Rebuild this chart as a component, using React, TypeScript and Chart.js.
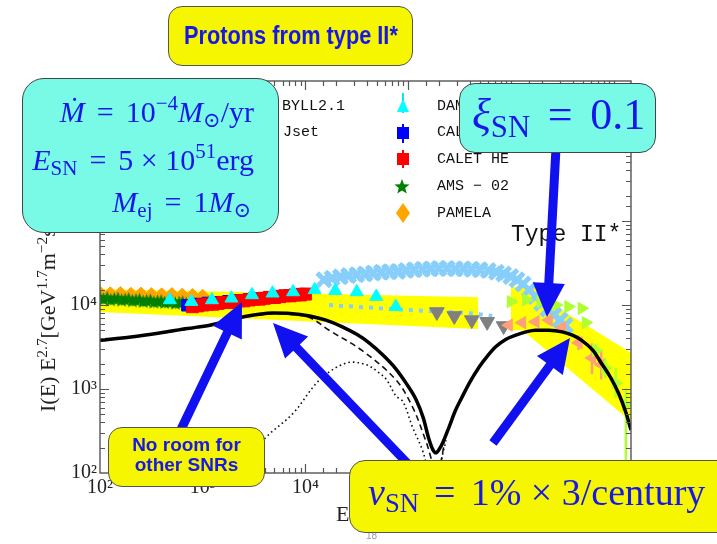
import React, { useEffect, useRef } from 'react';
import { Chart, registerables } from 'chart.js';

Chart.register(...registerables);

// ---------------- data: E [GeV], flux = I(E)·E^2.7 ----------------
const totalE = [100, 200, 380, 710, 1175, 2450, 4790, 7080, 11000, 15850, 22900, 31600, 41700, 56200, 75900, 95500, 120000, 141000, 158000, 174000, 186000, 200000, 219000, 251000, 288000, 331000, 398000, 490000, 589000, 708000, 891000, 1.12e6, 1.41e6, 1.74e6, 2.34e6, 3.16e6, 3.98e6, 4.9e6, 6.31e6, 7.59e6, 9.33e6, 1.12e7, 1.32e7, 1.48e7];
const totalF = [3800, 4170, 4650, 5250, 5750, 7200, 8040, 7940, 7400, 6600, 5500, 4470, 3550, 2570, 1740, 1175, 741, 447, 263, 190, 174, 190, 234, 355, 550, 776, 1200, 1820, 2450, 3160, 3890, 4370, 4790, 5010, 5010, 4790, 4370, 3800, 2880, 2040, 1380, 891, 525, 324];

const comp1E = [100, 380, 1175, 2450, 4790, 7080, 11000, 17000, 35500, 75900, 110000, 148000, 166000, 182000];
const comp1F = [3780, 4620, 5700, 7100, 7900, 7760, 7080, 5010, 2880, 1290, 617, 245, 155, 100];
const comp1bE = [200000, 212000, 226000];
const comp1bF = [100, 150, 230];

const comp2E = [2000, 4170, 7590, 13800, 25100, 38900, 52500, 61700, 75900, 89100, 110000, 138000, 158000];
const comp2F = [100, 269, 513, 1290, 2040, 1950, 1550, 1290, 832, 708, 355, 186, 100];
const comp2bE = [204000, 214000, 234000];
const comp2bF = [100, 155, 245];

const band1UpperE = [100, 480000];
const band1UpperF = [15500, 12400];
const band1LowerE = [100, 480000];
const band1LowerF = [8260, 5180];
const band2UpperE = [1.0e6, 2.0e6, 2.6e6, 1.48e7];
const band2UpperF = [16400, 16400, 10000, 2700];
const band2LowerE = [1.0e6, 1.3e6, 1.48e7];
const band2LowerF = [5000, 5000, 410];

const amsE = [100, 108.4, 117.5, 127.4, 138.0, 149.6, 162.2, 175.8, 190.5, 206.5, 223.9, 242.7, 263.0, 285.1, 309.0, 335.0, 363.1, 393.6, 426.6, 462.4, 501.2, 543.3, 588.8, 638.3, 691.8];
const amsF = [12300, 11700, 12150, 11500, 11800, 11950, 11400, 11600, 11750, 11200, 11400, 11550, 11000, 11200, 11350, 10800, 11000, 11150, 10700, 10850, 10950, 10500, 10650, 10800, 10400];

const pamelaE = [100, 126, 158, 200, 251, 316, 398, 501, 631, 794, 1000];
const pamelaF = [13800, 13600, 13700, 13400, 13500, 13300, 13200, 13300, 13100, 13000, 12700];

const caletE = [708, 891, 1122, 1413, 1778, 2239, 2818, 3548, 4467, 5623, 7079, 8913];
const caletF = [9900, 10300, 10600, 10800, 11100, 11400, 11700, 12000, 12400, 12800, 13100, 13500];

const caletHeE = [794, 891, 1000, 1122, 1259, 1413, 1585, 1778, 1995, 2239, 2512, 2818, 3162, 3548, 3981, 4467, 5012, 5623, 6310, 7079, 7943, 8913, 10000];
const caletHeF = [9550, 9770, 10000, 10230, 10230, 10470, 10720, 10720, 10960, 11220, 11220, 11480, 11750, 11750, 12020, 12300, 12300, 12590, 12880, 12880, 13180, 13180, 13490];

const dampeE = [479, 776, 1230, 1905, 3020, 4786, 7586, 12300, 19500, 31620, 48980, 75860];
const dampeF = [11480, 10960, 11480, 12020, 13180, 13800, 14290, 15140, 14790, 14290, 12590, 9550];

const grayE = [190500, 281800, 416900, 588800, 851100];
const grayF = [8260, 7410, 6610, 6310, 5620];

const skyLineE = [17000, 100000, 400000, 660000];
const skyLineF = [10000, 8700, 8000, 7400];

const skyE = [15140, 18200, 21880, 26300, 31620, 38020, 45710, 54950, 66070, 79430, 95500, 114800, 138000, 166000, 199500, 239900, 288400, 346700, 416900, 501200, 602600, 724400, 851100, 1000000, 1148000, 1318000, 1514000, 1738000, 1995000, 2291000, 2630000, 3020000, 3388000];
const skyF = [19950, 20890, 21630, 22390, 22910, 23440, 23990, 24550, 24830, 25120, 25700, 26300, 26610, 26920, 27230, 27230, 26920, 26920, 26610, 26300, 25700, 24550, 23440, 21880, 19950, 17780, 15140, 12590, 10470, 8910, 7590, 6610, 5750];

const limeE = [1.0e6, 1.41e6, 1.95e6, 2.75e6, 3.63e6, 4.9e6, 5.37e6, 6.76e6, 8.32e6, 1.05e7, 1.32e7];
const limeF = [10960, 11500, 10960, 10000, 9550, 9120, 6170, 2880, 1780, 1175, 646];
const limeLo = [10200, 10700, 10200, 9300, 8900, 8500, 5500, 2400, 1350, 780, 60];
const limeHi = [11800, 12300, 11800, 10700, 10250, 9800, 6900, 3450, 2350, 1780, 1020];

const salmonE = [9.55e5, 1.29e6, 1.74e6, 2.34e6, 3.16e6, 4.57e6, 6.17e6, 7.59e6];
const salmonF = [5750, 6170, 6310, 6610, 5370, 3550, 2340, 1950];
const salmonLo = [5200, 5600, 5700, 5900, 4700, 2900, 1500, 1300];
const salmonHi = [6350, 6800, 7000, 7400, 6150, 4350, 3500, 2900];

const xDecades = [2, 3, 4, 5, 6, 7];
const yDecades = [2, 3, 4, 5, 6];
const xMin = 100, xMax = 1.48e7, yMin = 100, yMax = 4.64e6;

// ---------------- styling ----------------
const SERIF = '"Liberation Serif", "DejaVu Serif", serif';
const MONO = '"Liberation Mono", "DejaVu Sans Mono", monospace';
const SANS = '"Liberation Sans", Arial, sans-serif';
const BLUE = '#1717e8';
const ARROW = '#1010f0';
const CYANBOX = '#78fae6';
const YELLOWBOX = '#f6f600';

const SUPS: Record<string, string> = { '0': '⁰', '1': '¹', '2': '²', '3': '³', '4': '⁴', '5': '⁵', '6': '⁶', '7': '⁷', '8': '⁸', '9': '⁹' };

const pts = (xs: number[], ys: number[]) => xs.map((x, i) => ({ x, y: ys[i] }));

function decadeLabel(v: number, decades: number[]) {
  const l = Math.log10(v);
  const r = Math.round(l);
  if (Math.abs(l - r) > 1e-6 || !decades.includes(r)) return '';
  return '10' + String(r).split('').map((c) => SUPS[c]).join('');
}

function arrowPoly(x1: number, y1: number, x2: number, y2: number, w = 9, hl = 34, hw = 16) {
  const dx = x2 - x1, dy = y2 - y1, L = Math.hypot(dx, dy);
  const ux = dx / L, uy = dy / L, nx = -uy, ny = ux;
  const bx = x2 - ux * hl, by = y2 - uy * hl;
  const p = [
    [x1 + nx * w / 2, y1 + ny * w / 2],
    [bx + nx * w / 2, by + ny * w / 2],
    [bx + nx * hw, by + ny * hw],
    [x2, y2],
    [bx - nx * hw, by - ny * hw],
    [bx - nx * w / 2, by - ny * w / 2],
    [x1 - nx * w / 2, y1 - ny * w / 2],
  ];
  return p.map((q) => q[0].toFixed(1) + ',' + q[1].toFixed(1)).join(' ');
}

function starPoly(cx: number, cy: number, R: number, r: number) {
  const out: string[] = [];
  for (let i = 0; i < 10; i++) {
    const a = -Math.PI / 2 + (i * Math.PI) / 5;
    const rr = i % 2 === 0 ? R : r;
    out.push((cx + rr * Math.cos(a)).toFixed(1) + ',' + (cy + rr * Math.sin(a)).toFixed(1));
  }
  return out.join(' ');
}

const Sup = ({ children }: { children: React.ReactNode }) => (
  <span style={{ fontSize: '0.7em', position: 'relative', top: '-0.55em', lineHeight: 0 }}>{children}</span>
);
const Sub = ({ children }: { children: React.ReactNode }) => (
  <span style={{ fontSize: '0.7em', position: 'relative', top: '0.25em', lineHeight: 0 }}>{children}</span>
);
const Eq = () => <span style={{ margin: '0 0.4em' }}>=</span>;

const errorBarPlugin = {
  id: 'errbars',
  beforeDatasetDraw(chart: any, args: any) {
    const ds = chart.data.datasets[args.index];
    if (!ds.errLo) return;
    const { ctx, chartArea: a, scales } = chart;
    ctx.save();
    ctx.beginPath();
    ctx.rect(a.left, a.top, a.right - a.left, a.bottom - a.top);
    ctx.clip();
    ctx.strokeStyle = ds.errColor;
    ctx.lineWidth = 2.5;
    ds.data.forEach((p: any, i: number) => {
      const px = scales.x.getPixelForValue(p.x);
      ctx.beginPath();
      ctx.moveTo(px, scales.y.getPixelForValue(ds.errLo[i]));
      ctx.lineTo(px, scales.y.getPixelForValue(ds.errHi[i]));
      ctx.stroke();
    });
    ctx.restore();
  },
};

const framePlugin = {
  id: 'frame',
  afterDraw(chart: any) {
    const { ctx, chartArea: a, scales } = chart;
    ctx.save();
    ctx.strokeStyle = '#555';
    ctx.lineWidth = 1.4;
    ctx.strokeRect(a.left, a.top, a.right - a.left, a.bottom - a.top);
    ctx.lineWidth = 1.2;
    const isMajor = (v: number) => Math.abs(Math.log10(v) - Math.round(Math.log10(v))) < 1e-6;
    scales.x.ticks.forEach((t: any) => {
      if (t.value <= scales.x.min || t.value >= scales.x.max) return;
      const px = Math.round(scales.x.getPixelForValue(t.value)) + 0.5;
      const len = isMajor(t.value) ? 9 : 5;
      ctx.beginPath();
      ctx.moveTo(px, a.bottom); ctx.lineTo(px, a.bottom - len);
      ctx.moveTo(px, a.top); ctx.lineTo(px, a.top + len);
      ctx.stroke();
    });
    scales.y.ticks.forEach((t: any) => {
      if (t.value <= scales.y.min || t.value >= scales.y.max) return;
      const py = Math.round(scales.y.getPixelForValue(t.value)) + 0.5;
      const len = isMajor(t.value) ? 9 : 5;
      ctx.beginPath();
      ctx.moveTo(a.left, py); ctx.lineTo(a.left + len, py);
      ctx.moveTo(a.right, py); ctx.lineTo(a.right - len, py);
      ctx.stroke();
    });
    ctx.restore();
  },
};

export default function App() {
  const ref = useRef<HTMLCanvasElement>(null);

  useEffect(() => {
    const star = document.createElement('canvas');
    star.width = 15; star.height = 15;
    const sc = star.getContext('2d')!;
    sc.fillStyle = '#008000';
    sc.beginPath();
    for (let i = 0; i < 10; i++) {
      const ang = -Math.PI / 2 + (i * Math.PI) / 5;
      const rr = i % 2 === 0 ? 7.5 : 3.2;
      const px = 7.5 + rr * Math.cos(ang), py = 7.9 + rr * Math.sin(ang);
      if (i === 0) sc.moveTo(px, py); else sc.lineTo(px, py);
    }
    sc.closePath();
    sc.fill();

    const hidden = 'rgba(0,0,0,0)';
    const chart = new Chart(ref.current!, {
      type: 'scatter',
      data: {
        datasets: [
          { data: pts(band1UpperE, band1UpperF), showLine: true, borderColor: hidden, borderWidth: 0, pointRadius: 0, backgroundColor: '#ffff00', fill: '+1', order: 100 } as any,
          { data: pts(band1LowerE, band1LowerF), showLine: true, borderColor: hidden, borderWidth: 0, pointRadius: 0, fill: false, order: 101 },
          { data: pts(band2UpperE, band2UpperF), showLine: true, borderColor: hidden, borderWidth: 0, pointRadius: 0, backgroundColor: '#ffff00', fill: '+1', order: 102 },
          { data: pts(band2LowerE, band2LowerF), showLine: true, borderColor: hidden, borderWidth: 0, pointRadius: 0, fill: false, order: 103 },
          { data: pts(skyLineE, skyLineF), showLine: true, borderColor: '#87cefa', borderWidth: 4, borderDash: [4, 6], pointRadius: 0, order: 60 },
          { data: pts(skyE, skyF), pointStyle: 'crossRot', pointRadius: 9.5, pointBorderWidth: 5, borderColor: '#87cefa', backgroundColor: '#87cefa', order: 50 },
          { data: pts(pamelaE, pamelaF), pointStyle: 'rectRot', pointRadius: 7, borderColor: '#ffa500', backgroundColor: '#ffa500', order: 31 },
          { data: pts(amsE, amsF), pointStyle: star, order: 30 } as any,
          { data: pts(caletE, caletF), pointStyle: 'rect', pointRadius: 8, borderColor: '#0000ff', backgroundColor: '#0000ff', order: 29 },
          { data: pts(caletHeE, caletHeF), pointStyle: 'rect', pointRadius: 8.5, borderColor: '#ff0000', backgroundColor: '#ff0000', order: 28 },
          { data: pts(dampeE, dampeF), pointStyle: 'triangle', pointRadius: 7.5, borderColor: '#00ffff', backgroundColor: '#00ffff', order: 27 },
          { data: pts(grayE, grayF), pointStyle: 'triangle', pointRotation: 180, pointRadius: 8.5, borderColor: '#808080', backgroundColor: '#808080', order: 26 },
          { data: pts(salmonE, salmonF), pointStyle: 'triangle', pointRotation: -90, pointRadius: 7, borderColor: '#ffa07a', backgroundColor: '#ffa07a', order: 25, errLo: salmonLo, errHi: salmonHi, errColor: '#ffa07a' } as any,
          { data: pts(limeE, limeF), pointStyle: 'triangle', pointRotation: 90, pointRadius: 7, borderColor: '#adff2f', backgroundColor: '#adff2f', order: 24, errLo: limeLo, errHi: limeHi, errColor: '#adff2f' } as any,
          { data: pts(comp2E, comp2F), showLine: true, borderColor: '#111', borderWidth: 1.6, borderDash: [1.6, 3], pointRadius: 0, tension: 0.35, order: 4 },
          { data: pts(comp2bE, comp2bF), showLine: true, borderColor: '#111', borderWidth: 1.6, borderDash: [1.6, 3], pointRadius: 0, tension: 0.35, order: 4 },
          { data: pts(comp1E, comp1F), showLine: true, borderColor: '#111', borderWidth: 1.6, borderDash: [6, 4], pointRadius: 0, tension: 0.35, order: 3 },
          { data: pts(comp1bE, comp1bF), showLine: true, borderColor: '#111', borderWidth: 1.6, borderDash: [6, 4], pointRadius: 0, tension: 0.35, order: 3 },
          { data: pts(totalE, totalF), showLine: true, borderColor: '#000', borderWidth: 3.5, pointRadius: 0, cubicInterpolationMode: 'monotone', order: 2 },
        ],
      },
      options: {
        responsive: false,
        animation: false,
        events: [],
        layout: { padding: { left: 0, right: 717 - 631, top: 81, bottom: 0 } },
        plugins: { legend: { display: false }, tooltip: { enabled: false } },
        scales: {
          x: {
            type: 'logarithmic',
            min: xMin,
            max: xMax,
            grid: { display: false, drawTicks: false },
            border: { display: false },
            ticks: {
              autoSkip: false,
              maxRotation: 0,
              padding: 3,
              color: '#222',
              font: { family: SERIF, size: 20 },
              callback: (v: any) => decadeLabel(Number(v), xDecades),
            },
            afterFit: (s: any) => { s.height = 544 - 473; },
          },
          y: {
            type: 'logarithmic',
            min: yMin,
            max: yMax,
            grid: { display: false, drawTicks: false },
            border: { display: false },
            ticks: {
              autoSkip: false,
              padding: 3,
              color: '#222',
              font: { family: SERIF, size: 20 },
              callback: (v: any) => decadeLabel(Number(v), yDecades),
            },
            afterFit: (s: any) => { s.width = 100; },
          },
        },
      } as any,
      plugins: [errorBarPlugin, framePlugin],
    });
    return () => chart.destroy();
  }, []);

  const abs = (o: React.CSSProperties): React.CSSProperties => ({ position: 'absolute', whiteSpace: 'nowrap', ...o });

  return (
    <div style={{ position: 'absolute', left: 0, top: 0, width: 717, height: 544, overflow: 'hidden', background: '#fff' }}>
      <canvas ref={ref} width={717} height={544} style={{ position: 'absolute', left: 0, top: 0 }} />

      {/* axis titles */}
      <div style={abs({ left: 36, top: 412, transform: 'rotate(-90deg)', transformOrigin: '0 0', fontFamily: SERIF, fontSize: 22, lineHeight: '24px', color: '#222' })}>
        I(E) E<Sup>2.7</Sup>[GeV<Sup>1.7</Sup>m<Sup>−2</Sup>s<Sup>−1</Sup>sr<Sup>−1</Sup>]
      </div>
      <div style={abs({ left: 336, top: 502, fontFamily: SERIF, fontSize: 22, lineHeight: '24px', color: '#222' })}>E [GeV]</div>
      <div style={abs({ left: 366, top: 530, fontFamily: SANS, fontSize: 10, color: '#999' })}>18</div>

      {/* legend text */}
      {[
        ['BYLL2.1', 282, 98], ['Jset', 283, 124], ['DAMPE', 437, 98], ['CALET', 437, 124],
        ['CALET HE', 437, 151], ['AMS − 02', 437, 178], ['PAMELA', 437, 205],
      ].map(([t, l, tp]) => (
        <div key={t as string} style={abs({ left: l as number, top: tp as number, fontFamily: MONO, fontSize: 15, lineHeight: '18px', color: '#111' })}>{t}</div>
      ))}
      <div style={abs({ left: 511, top: 224, fontFamily: MONO, fontSize: 23, lineHeight: '23px', color: '#111' })}>Type II*</div>

      {/* legend markers and arrows */}
      <svg width={717} height={544} style={{ position: 'absolute', left: 0, top: 0 }}>
        <line x1={403} y1={93} x2={403} y2={113} stroke="#00e8f0" strokeWidth={2} />
        <polygon points="397,112 409,112 403,99" fill="#00ffff" />
        <line x1={403} y1={124} x2={403} y2={143} stroke="#0000ff" strokeWidth={2} />
        <rect x={397} y={127} width={12} height={12} fill="#0000ff" />
        <line x1={403} y1={150} x2={403} y2={168} stroke="#ff0000" strokeWidth={2} />
        <rect x={397} y={153} width={12} height={12} fill="#ff0000" />
        <polygon points={starPoly(402, 187, 8, 3.4)} fill="#008000" />
        <polygon points="403,203 410,213 403,223 396,213" fill="#ffa500" />

        <polygon points={arrowPoly(176, 440, 242, 302)} fill={ARROW} />
        <polygon points={arrowPoly(410, 466, 273, 323)} fill={ARROW} />
        <polygon points={arrowPoly(556, 148, 547, 317)} fill={ARROW} />
        <polygon points={arrowPoly(493, 443, 570, 338)} fill={ARROW} />
      </svg>

      {/* boxes */}
      <div style={abs({ left: 168, top: 6, width: 245, height: 60, boxSizing: 'border-box', background: YELLOWBOX, border: '1px solid #555', borderRadius: 14 })} />
      <div style={abs({ left: 168, top: 23, width: 245, textAlign: 'center', fontFamily: SANS, fontWeight: 'bold', fontSize: 25, lineHeight: '25px', color: BLUE })}>
        <span style={{ display: 'inline-block', transform: 'scaleX(0.87)' }}>Protons from type II*</span>
      </div>

      <div style={abs({ left: 22, top: 78, width: 257, height: 155, boxSizing: 'border-box', background: CYANBOX, border: '1.5px solid #444', borderRadius: 22 })} />
      <div style={abs({ right: 717 - 254, top: 97, fontFamily: SERIF, fontSize: 30, lineHeight: '30px', color: BLUE })}>
        <i>Ṁ</i><Eq />10<Sup>−4</Sup><i>M</i><Sub>⊙</Sub>/yr
      </div>
      <div style={abs({ right: 717 - 254, top: 145, fontFamily: SERIF, fontSize: 30, lineHeight: '30px', color: BLUE })}>
        <i>E</i><Sub>SN</Sub><Eq />5<span style={{ margin: '0 0.25em' }}>×</span>10<Sup>51</Sup>erg
      </div>
      <div style={abs({ right: 717 - 251, top: 187, fontFamily: SERIF, fontSize: 30, lineHeight: '30px', color: BLUE })}>
        <i>M</i><Sub>ej</Sub><Eq />1<i>M</i><Sub>⊙</Sub>
      </div>

      <div style={abs({ left: 459, top: 83, width: 197, height: 70, boxSizing: 'border-box', background: CYANBOX, border: '1.5px solid #444', borderRadius: 16 })} />
      <div style={abs({ left: 472, top: 93, fontFamily: SERIF, fontSize: 44, lineHeight: '44px', color: BLUE })}>
        <i>ξ</i><Sub>SN</Sub><Eq />0.1
      </div>

      <div style={abs({ left: 108, top: 427, width: 157, height: 60, boxSizing: 'border-box', background: YELLOWBOX, border: '1px solid #555', borderRadius: 14 })} />
      <div style={abs({ left: 108, top: 435, width: 157, textAlign: 'center', fontFamily: SANS, fontWeight: 'bold', fontSize: 19, lineHeight: '20px', color: BLUE })}>
        No room for<br />other SNRs
      </div>

      <div style={abs({ left: 349, top: 460, width: 390, height: 73, boxSizing: 'border-box', background: YELLOWBOX, border: '1px solid #555', borderRadius: 16 })} />
      <div style={abs({ left: 368, top: 473, fontFamily: SERIF, fontSize: 38, lineHeight: '38px', color: BLUE })}>
        <i>ν</i><Sub>SN</Sub><Eq />1%<span style={{ margin: '0 0.25em' }}>×</span>3/century
      </div>
    </div>
  );
}
